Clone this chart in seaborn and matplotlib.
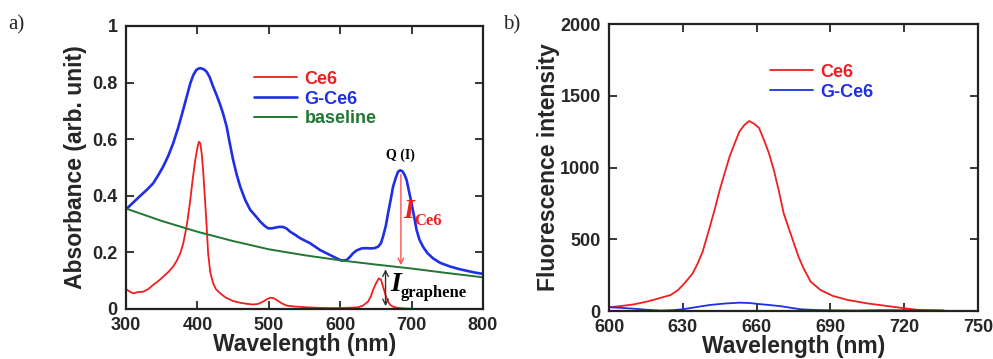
import numpy as np
import pandas as pd
import matplotlib
matplotlib.use('Agg')
import matplotlib.pyplot as plt
import seaborn as sns

# ---- data ----
# a) absorbance
ce6_abs_wl = [300, 305, 310, 317, 324, 331, 338, 345, 352, 359, 366, 371, 376, 380, 383, 386, 390, 393, 397,
              400, 402, 404, 406, 408, 411, 413, 415, 418, 422, 426, 432, 440, 450, 460, 470, 478, 485, 492,
              497, 502, 507, 511, 518, 525, 535, 553, 570, 590, 610, 625, 632, 639, 643, 646, 650, 654, 657,
              660, 664, 667, 670, 674, 680, 690, 707]
ce6_abs = [0.07, 0.062, 0.055, 0.06, 0.061, 0.07, 0.085, 0.098, 0.114, 0.13, 0.15, 0.17, 0.197, 0.23, 0.267, 0.31, 0.385, 0.45, 0.527,
           0.57, 0.591, 0.585, 0.55, 0.49, 0.373, 0.29, 0.197, 0.13, 0.091, 0.07, 0.055, 0.04, 0.028, 0.022, 0.018, 0.016, 0.018, 0.026,
           0.034, 0.04, 0.038, 0.032, 0.02, 0.012, 0.009, 0.006, 0.004, 0.003, 0.004, 0.006, 0.012, 0.026, 0.045, 0.067, 0.09, 0.108, 0.104,
           0.079, 0.045, 0.026, 0.015, 0.008, 0.004, 0.002, 0.0]

gce6_abs_wl = [300, 310, 320, 330, 338, 345, 352, 359, 366, 373, 380, 385, 390, 394, 398, 401, 404, 407, 410, 413,
               417, 422, 427, 432, 436, 441, 445, 450, 455, 460, 467, 474, 481, 488, 494, 499, 504, 508, 514,
               520, 525, 530, 537, 544, 551, 558, 565, 572, 580, 588, 595, 602, 609, 614, 618, 623, 630, 636,
               642, 648, 653, 657, 660, 664, 667, 671, 674, 678, 681, 684, 687, 690, 693, 696, 700, 704, 707,
               711, 716, 722, 730, 740, 754, 765, 777, 788, 800]
gce6_abs = [0.352, 0.376, 0.40, 0.423, 0.444, 0.472, 0.503, 0.54, 0.585, 0.64, 0.703, 0.75, 0.797, 0.825, 0.843, 0.849, 0.851, 0.849, 0.845, 0.838,
            0.82, 0.786, 0.755, 0.721, 0.69, 0.644, 0.59, 0.527, 0.475, 0.432, 0.385, 0.35, 0.33, 0.309, 0.294, 0.285, 0.285, 0.287, 0.29,
            0.29, 0.284, 0.273, 0.262, 0.25, 0.241, 0.232, 0.22, 0.208, 0.198, 0.188, 0.179, 0.171, 0.173, 0.185, 0.197, 0.207, 0.214, 0.215,
            0.214, 0.215, 0.22, 0.232, 0.256, 0.295, 0.338, 0.39, 0.432, 0.465, 0.485, 0.49, 0.487, 0.475, 0.456, 0.42, 0.373, 0.32, 0.279,
            0.245, 0.22, 0.198, 0.179, 0.163, 0.15, 0.142, 0.135, 0.129, 0.124]

base_wl = [300, 350, 400, 450, 500, 550, 600, 650, 700, 750, 800]
base_abs = [0.355, 0.311, 0.273, 0.24, 0.211, 0.19, 0.172, 0.157, 0.143, 0.127, 0.112]

# b) fluorescence
ce6_fl_wl = [600, 605, 610, 614, 618, 621, 625, 628, 630, 632, 634, 636, 638, 641, 643, 645, 647, 649, 651, 653,
             655, 657, 659, 661, 663, 665, 667, 669, 671, 673, 675, 677, 679, 682, 686, 691, 697, 705, 713, 720,
             726, 733, 740]
ce6_fl = [26, 35, 46, 60, 77, 92, 111, 145, 181, 220, 262, 330, 410, 587, 710, 843, 960, 1075, 1165, 1250,
          1296, 1324, 1305, 1275, 1192, 1100, 983, 840, 681, 580, 480, 380, 300, 204, 146, 105, 77, 53, 35, 19,
          7, 3, 0]

gce6_fl_wl = [600, 605, 610, 615, 621, 626, 630, 635, 641, 647, 653, 657, 660, 665, 670, 674, 678, 684, 690, 700,
              710, 720, 736]
gce6_fl = [26, 22, 16, 9, 3, 6, 12, 26, 42, 52, 58, 56, 50, 42, 33, 22, 12, 7, 5, 3, 6, 5, 4]

RED = '#f01e1e'
BLUE = '#1f2fe6'
GREEN = '#227633'

sns.set_style('ticks')
plt.rcParams['font.family'] = ['Liberation Sans', 'DejaVu Sans']
plt.rcParams['font.weight'] = 'bold'

fig = plt.figure(figsize=(9.93, 3.59), dpi=100)
ax1 = fig.add_axes([0.1269, 0.1393, 0.3595, 0.7883])
ax2 = fig.add_axes([0.6133, 0.1337, 0.3716, 0.7994])

# ---- panel a ----
sns.lineplot(x=ce6_abs_wl, y=ce6_abs, ax=ax1, color=RED, lw=1.3, label='Ce6')
sns.lineplot(x=gce6_abs_wl, y=gce6_abs, ax=ax1, color=BLUE, lw=1.9, label='G-Ce6')
sns.lineplot(x=base_wl, y=base_abs, ax=ax1, color=GREEN, lw=1.4, label='baseline')
ax1.set_xlim(300, 800)
ax1.set_ylim(0, 1)
ax1.set_xticks([300, 400, 500, 600, 700, 800])
ax1.set_yticks([0, 0.2, 0.4, 0.6, 0.8, 1])
ax1.set_yticklabels(['0', '0.2', '0.4', '0.6', '0.8', '1'])
ax1.set_xlabel('Wavelength (nm)', fontsize=16.5, fontweight='bold', labelpad=-1)
ax1.set_ylabel('Absorbance (arb. unit)', fontsize=16.5, fontweight='bold', labelpad=4)

# annotations
ax1.annotate('', xy=(685, 0.145), xytext=(685, 0.485),
             arrowprops=dict(arrowstyle='->', color='#ff5050', lw=1.0))
ax1.annotate('', xy=(663.5, 0.0), xytext=(663.5, 0.15),
             arrowprops=dict(arrowstyle='<->', color='#333333', lw=1.0))
ax1.text(689, 0.343, 'I', color=RED, fontsize=20, family='Liberation Serif',
         style='italic', fontweight='bold', va='center', ha='left')
ax1.text(704, 0.31, 'Ce6', color=RED, fontsize=12, family='Liberation Serif',
         fontweight='bold', va='center', ha='left')
ax1.text(670, 0.085, 'I', color='black', fontsize=20, family='Liberation Serif',
         style='italic', fontweight='bold', va='center', ha='left')
ax1.text(685, 0.058, 'graphene', color='black', fontsize=12, family='Liberation Serif',
         fontweight='bold', va='center', ha='left')
ax1.text(684, 0.544, 'Q (I)', color='black', fontsize=10, family='Liberation Serif',
         fontweight='bold', va='center', ha='center')

ax1.legend(loc='upper left', bbox_to_anchor=(0.358, 0.842), frameon=False,
           prop={'weight': 'bold', 'size': 13}, handlelength=2.4, handletextpad=0.4,
           labelspacing=0.16, borderpad=0, borderaxespad=0, labelcolor='linecolor')

# ---- panel b ----
sns.lineplot(x=ce6_fl_wl, y=ce6_fl, ax=ax2, color=RED, lw=1.3, label='Ce6')
sns.lineplot(x=gce6_fl_wl, y=gce6_fl, ax=ax2, color=BLUE, lw=1.3, label='G-Ce6')
ax2.set_xlim(600, 750)
ax2.set_ylim(0, 2000)
ax2.set_xticks([600, 630, 660, 690, 720, 750])
ax2.set_yticks([0, 500, 1000, 1500, 2000])
ax2.set_xlabel('Wavelength (nm)', fontsize=16.5, fontweight='bold', labelpad=-1)
ax2.set_ylabel('Fluorescence intensity', fontsize=16.5, fontweight='bold', labelpad=0)
ax2.legend(loc='upper left', bbox_to_anchor=(0.435, 0.862), frameon=False,
           prop={'weight': 'bold', 'size': 13}, handlelength=2.4, handletextpad=0.4,
           labelspacing=0.16, borderpad=0, borderaxespad=0, labelcolor='linecolor')

for ax in (ax1, ax2):
    ax.tick_params(direction='in', length=6, width=1.3, top=True, right=True,
                   labelsize=13)
    ax.tick_params(axis='x', pad=6)
    ax.tick_params(axis='y', pad=6)
    for lab in ax.get_xticklabels() + ax.get_yticklabels():
        lab.set_fontweight('bold')
    for sp in ax.spines.values():
        sp.set_linewidth(1.6)
        sp.set_color('#222222')

fig.text(0.008, 0.93, 'a)', fontsize=15, family='Liberation Serif', fontweight='normal', va='center')
fig.text(0.507, 0.93, 'b)', fontsize=15, family='Liberation Serif', fontweight='normal', va='center')

fig.savefig('out.png', dpi=100, facecolor='white')
